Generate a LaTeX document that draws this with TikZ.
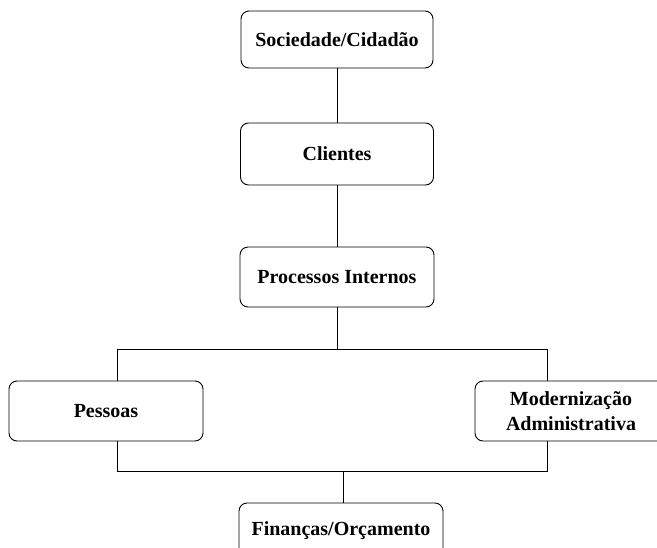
\documentclass[tikz,border=0pt]{standalone}
\usepackage{fontspec}
\setmainfont{Liberation Serif}
\begin{document}
\begin{tikzpicture}[x=1pt,y=-1pt,
  box/.style={draw=black, line width=0.9pt, fill=white, rounded corners=8pt,
    inner sep=0pt, align=center,
    font=\fontsize{20}{25}\selectfont\bfseries},
  conn/.style={draw=black, line width=0.9pt}]
\useasboundingbox (0,0) rectangle (657,548);
\clip (0,0) rectangle (657,548);
\fill[white] (0,0) rectangle (657,548);
% junction frame (behind boxes)
\coordinate (tl) at (117,349);
\coordinate (tr) at (547,349);
\coordinate (bl) at (117,471);
\coordinate (br) at (547,471);
\coordinate (jt) at (337,349);
\coordinate (jb) at (343,471);
\draw[conn] (tl) -- (tr) -- (br) -- (bl) -- cycle;
% boxes
\node[box, minimum width=192pt, minimum height=57pt] (soc) at (337,39.5) {Sociedade/Cidadão};
\node[box, minimum width=193pt, minimum height=62pt] (cli) at (337,154) {Clientes};
\node[box, minimum width=194pt, minimum height=60pt] (proc) at (337,277) {Processos Internos};
\node[box, minimum width=194pt, minimum height=60pt] (pes) at (106,411) {Pessoas};
\node[box, minimum width=192pt, minimum height=60pt] (mod) at (571,411) {Modernização\\Administrativa};
\node[box, minimum width=204pt, minimum height=56pt] (fin) at (341,531) {Finanças/Orçamento};
% connectors
\draw[conn] (soc.south) -- (cli.north);
\draw[conn] (cli.south) -- (proc.north);
\draw[conn] (proc.south) -- (jt);
\draw[conn] (jb) -- (fin.north -| jb);
\end{tikzpicture}
\end{document}
